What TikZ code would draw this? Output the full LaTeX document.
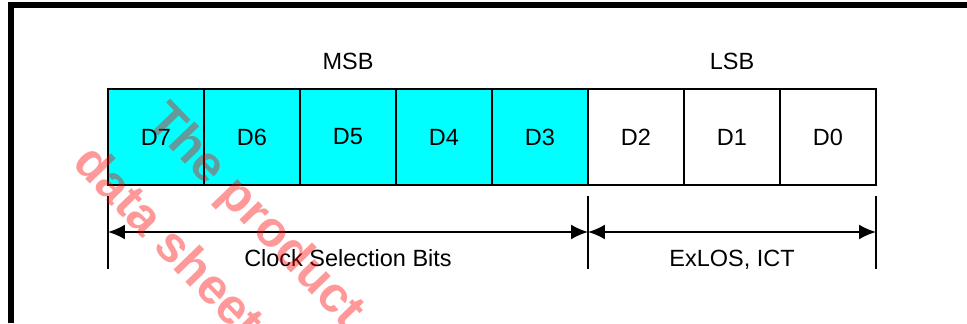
\documentclass[tikz,border=0pt]{standalone}
\usepackage{fontspec}
\setmainfont{Liberation Sans}
\usetikzlibrary{positioning,arrows.meta}
\definecolor{bitcyan}{RGB}{0,255,255}

\begin{document}
\begin{tikzpicture}[every node/.style={font=\fontsize{16.7}{20}\selectfont},
  bitcell/.style={draw,line width=1.4pt,minimum width=2.4cm,minimum height=2.4cm,inner sep=0pt,outer sep=0pt},
  dimline/.style={line width=1.4pt},
  dimarrow/.style={line width=1.4pt,{Latex[length=0.42cm,width=0.37cm]}-{Latex[length=0.42cm,width=0.37cm]}},
  wmark/.style={font=\fontsize{35.5}{40}\selectfont\bfseries,text=red,text opacity=0.4,rotate=-46,anchor=base west,inner sep=0pt}]
\useasboundingbox (0,0) rectangle (24.175,-8.075);
% frame
\fill (0.2,-0.05) rectangle (24.175,-0.2);
\fill (0.2,-0.05) rectangle (0.35,-8.075);
% register bits
\node[bitcell,fill=bitcyan] (d7) at (3.9,-3.425) {D7};
\node[bitcell,fill=bitcyan,right=0pt of d7] (d6) {D6};
\node[bitcell,fill=bitcyan,right=0pt of d6] (d5) {D5};
\node[bitcell,fill=bitcyan,right=0pt of d5] (d4) {D4};
\node[bitcell,fill=bitcyan,right=0pt of d4] (d3) {D3};
\node[bitcell,right=0pt of d3] (d2) {D2};
\node[bitcell,right=0pt of d2] (d1) {D1};
\node[bitcell,right=0pt of d1] (d0) {D0};
\node[anchor=base] (msb) at (8.7,-1.725) {MSB};
\node[anchor=base] (lsb) at (18.3,-1.725) {LSB};
% field limits
\coordinate (t7) at ([yshift=-0.275cm]d7.south west);
\coordinate (b7) at ([yshift=-2.1cm]d7.south west);
\coordinate (t3) at ([yshift=-0.275cm]d3.south east);
\coordinate (b3) at ([yshift=-2.1cm]d3.south east);
\coordinate (t0) at ([yshift=-0.275cm]d0.south east);
\coordinate (b0) at ([yshift=-2.1cm]d0.south east);
\draw[dimline] (t7) -- (b7);
\draw[dimline] (t3) -- (b3);
\draw[dimline] (t0) -- (b0);
\coordinate (a7) at ([yshift=-1.175cm]d7.south west);
\coordinate (a3) at ([yshift=-1.175cm]d3.south east);
\coordinate (a0) at ([yshift=-1.175cm]d0.south east);
\draw[dimarrow] (a7) -- (a3);
\draw[dimarrow] (a3) -- (a0);
\node[anchor=base] (clk) at (8.7,-6.667) {Clock Selection Bits};
\node[anchor=base] (los) at (18.3,-6.667) {ExLOS, ICT};
% watermark
\begin{scope}
\clip (0,0) rectangle (24.175,-8.075);
\node[wmark] (wm1) at (3.625,-3.05) {The product};
\node[wmark] (wm2) at (1.79,-4.1) {data sheet};
\end{scope}
\end{tikzpicture}
\end{document}
